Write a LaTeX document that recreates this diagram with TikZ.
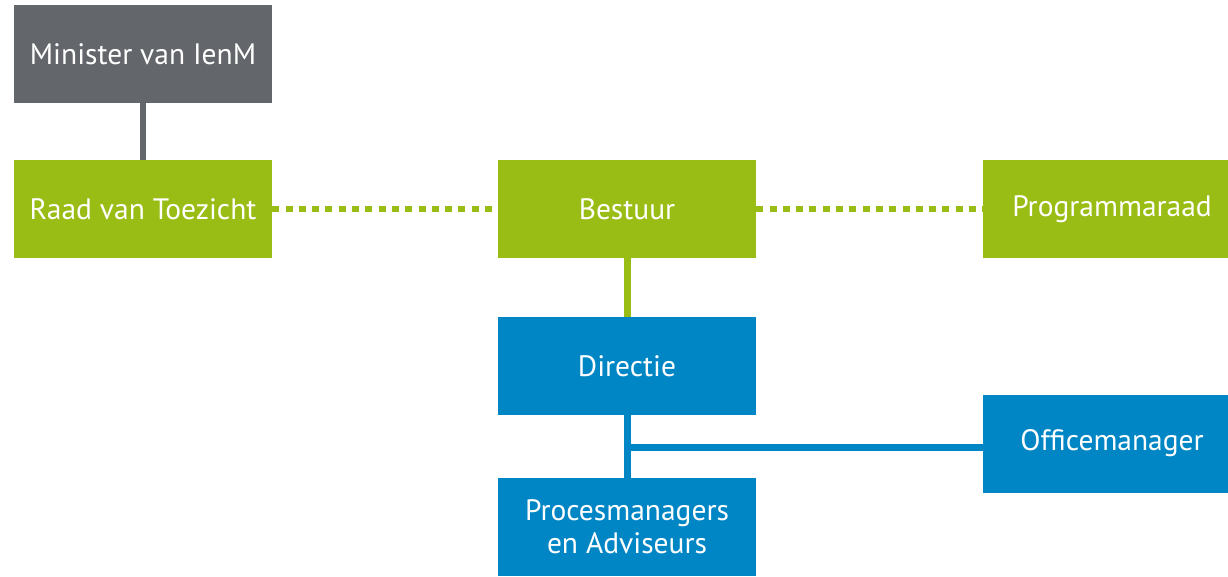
\documentclass[tikz,border=0pt]{standalone}
\usepackage{fontspec}
\setmainfont{PT Sans}
\usetikzlibrary{positioning}
\definecolor{ienmgray}{RGB}{99,102,106}
\definecolor{ienmgreen}{RGB}{154,189,21}
\definecolor{ienmblue}{RGB}{0,134,197}

\begin{document}
\begin{tikzpicture}[x=1pt, y=-1pt,
  box/.style={minimum width=258pt, minimum height=98pt, inner sep=0pt,
    text=white, align=center, font=\fontsize{29.5}{33}\selectfont},
  graybox/.style={box, fill=ienmgray},
  greenbox/.style={box, fill=ienmgreen},
  bluebox/.style={box, fill=ienmblue},
  link/.style={line width=7pt},
  dotlink/.style={line width=6pt, ienmgreen, dash pattern=on 7pt off 6.3pt}]
  \useasboundingbox (0,0) rectangle (1228,577);

  % Top row
  \node[graybox] (minister) at (143,54) {Minister van IenM};
  \node[greenbox] (raad) at (143,209) {Raad van Toezicht};
  \node[greenbox] (bestuur) at (627,209) {Bestuur};
  \node[greenbox] (programma) at (1112,209) {Programmaraad};

  % Organisation
  \node[bluebox] (directie) at (627,366) {Directie};
  \node[bluebox] (office) at (1112,443.5) {Officemanager};
  \node[bluebox] (proces) at (627,527) {Procesmanagers\\en Adviseurs};

  % Lines
  \draw[line width=6pt, ienmgray] (minister) -- (raad);
  \draw[dotlink] (raad.east) -- (bestuur.west);
  \draw[dotlink] (bestuur.east) -- (programma.west);
  \draw[link, ienmgreen] (bestuur) -- (directie);
  \draw[link, ienmblue] (directie) -- (proces);
  \coordinate (split) at (627,447);
  \draw[link, ienmblue] (split) -- (split -| office.west);
\end{tikzpicture}
\end{document}
